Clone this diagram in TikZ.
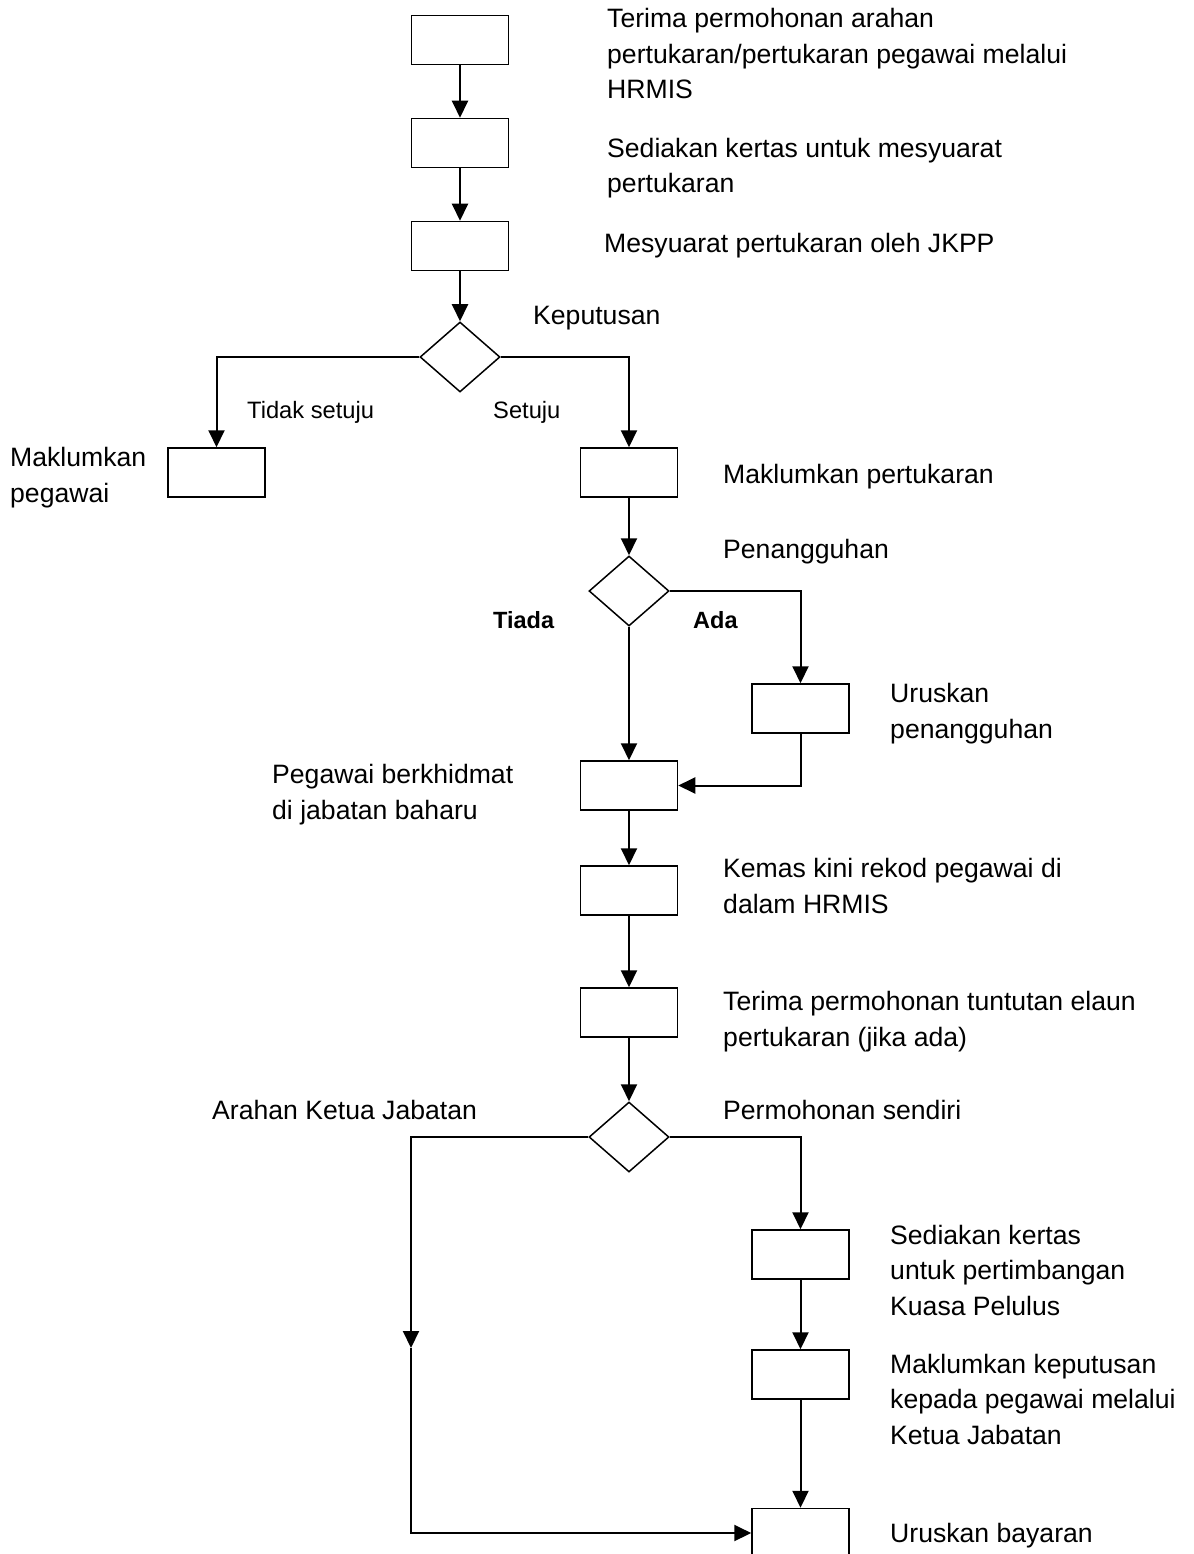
\documentclass[tikz,border=0pt]{standalone}
\usepackage{fontspec}
\setmainfont{Liberation Sans}
\usetikzlibrary{arrows.meta,shapes.geometric}
\begin{document}
\begin{tikzpicture}[x=1pt,y=-1pt,
  box/.style={draw,line width=1.5pt,minimum width=97pt,minimum height=49pt,inner sep=0pt},
  dia/.style={draw,diamond,line width=1.5pt,minimum width=80pt,minimum height=70pt,inner sep=0pt},
  arr/.style={line width=2pt,-{Triangle[length=17pt,width=16pt]}},
  lbl/.style={anchor=base west,inner sep=0pt,align=left,font=\fontsize{26.6}{35.5}\selectfont},
  sml/.style={anchor=base west,inner sep=0pt,font=\fontsize{23.7}{28}\selectfont},
  smb/.style={anchor=base west,inner sep=0pt,font=\fontsize{23.5}{28}\selectfont\bfseries}]
\useasboundingbox (0,0) rectangle (1193,1554);
\clip (0,0) rectangle (1193,1554);
\fill[white] (0,0) rectangle (1193,1554);
% boxes
\node[box] (b1) at (460,40) {};
\node[box] (b2) at (460,143) {};
\node[box] (b3) at (460,246) {};
\node[dia] (d1) at (460,357) {};
\node[box] (lb) at (216.5,472.5) {};
\node[box] (b4) at (629,472.5) {};
\node[dia] (d2) at (629,591) {};
\node[box] (b5) at (800.5,708.5) {};
\node[box] (b6) at (629,785.5) {};
\node[box] (b7) at (629,890.5) {};
\node[box] (b8) at (629,1012.5) {};
\node[dia] (d3) at (629,1137) {};
\node[box] (b9) at (800.5,1254.5) {};
\node[box] (b10) at (800.5,1374.5) {};
\node[box] (b11) at (800.5,1533) {};
\coordinate (c1) at (411,1348);
% connectors
\draw[arr] (b1) -- (b2);
\draw[arr] (b2) -- (b3);
\draw[arr] (b3) -- (d1);
\draw[arr] (d1.west) -| (lb.north);
\draw[arr] (d1.east) -| (b4.north);
\draw[arr] (b4) -- (d2);
\draw[arr] (d2.east) -| (b5.north);
\draw[arr] (d2) -- (b6);
\draw[arr] (b5.south) |- (b6.east);
\draw[arr] (b6) -- (b7);
\draw[arr] (b7) -- (b8);
\draw[arr] (b8) -- (d3);
\draw[arr] (d3.east) -| (b9.north);
\draw[arr] (b9) -- (b10);
\draw[arr] (b10) -- (b11);
\draw[arr] (d3.west) -| (c1);
\draw[arr] (c1) |- (b11.west);
% labels
\node[lbl] (t1) at (607,99) {Terima permohonan arahan\\pertukaran/pertukaran pegawai melalui\\HRMIS};
\node[lbl] (t2) at (607,193) {Sediakan kertas untuk mesyuarat\\pertukaran};
\node[lbl] (t3) at (604,252) {Mesyuarat pertukaran oleh JKPP};
\node[lbl] (t4) at (533,324) {Keputusan};
\node[sml] (t5) at (247,418) {Tidak setuju};
\node[sml] (t6) at (493,418) {Setuju};
\node[lbl] (t7) at (10,502) {Maklumkan\\pegawai};
\node[lbl] (t8) at (723,483) {Maklumkan pertukaran};
\node[lbl] (t9) at (723,558) {Penangguhan};
\node[smb] (t10) at (493,628) {Tiada};
\node[smb] (t11) at (693,628) {Ada};
\node[lbl] (t12) at (890,738) {Uruskan\\penangguhan};
\node[lbl] (t13) at (272,819) {Pegawai berkhidmat\\di jabatan baharu};
\node[lbl] (t14) at (723,913) {Kemas kini rekod pegawai di\\dalam HRMIS};
\node[lbl] (t15) at (723,1046) {Terima permohonan tuntutan elaun\\pertukaran (jika ada)};
\node[lbl] (t16) at (212,1119) {Arahan Ketua Jabatan};
\node[lbl] (t17) at (723,1119) {Permohonan sendiri};
\node[lbl] (t18) at (890,1315) {Sediakan kertas\\untuk pertimbangan\\Kuasa Pelulus};
\node[lbl] (t19) at (890,1444) {Maklumkan keputusan\\kepada pegawai melalui\\Ketua Jabatan};
\node[lbl] (t20) at (890,1542) {Uruskan bayaran};
\end{tikzpicture}
\end{document}
